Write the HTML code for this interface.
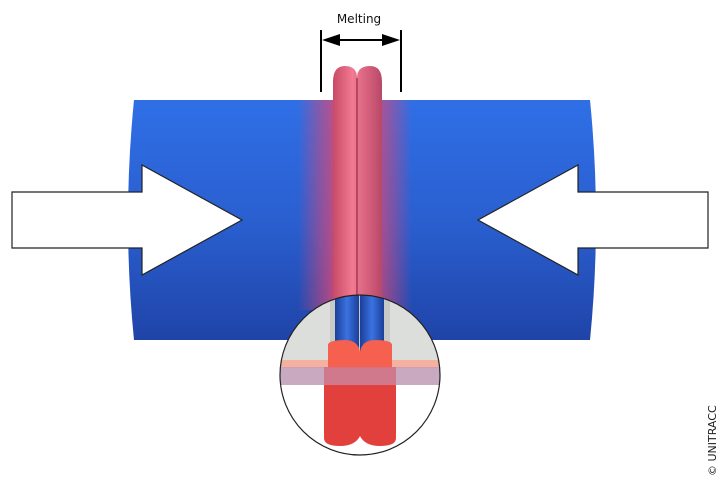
<!DOCTYPE html>
<html><head><style>body{margin:0;background:#fff}svg{display:block}</style></head><body>
<svg width="720" height="480" viewBox="0 0 720 480" xmlns="http://www.w3.org/2000/svg">
<defs>
<linearGradient id="cyl" x1="0" y1="0" x2="0" y2="1">
<stop offset="0" stop-color="#2f6fe6"/><stop offset="0.5" stop-color="#2a5fd0"/><stop offset="1" stop-color="#1f44a8"/></linearGradient>
<linearGradient id="glow" x1="0" y1="0" x2="1" y2="0">
<stop offset="0" stop-color="#e8406a" stop-opacity="0"/><stop offset="0.35" stop-color="#d84a78" stop-opacity="0.9"/><stop offset="0.65" stop-color="#d84a78" stop-opacity="0.9"/><stop offset="1" stop-color="#e8406a" stop-opacity="0"/></linearGradient>
<linearGradient id="tube" x1="0" y1="0" x2="1" y2="0">
<stop offset="0" stop-color="#c84a66"/><stop offset="0.4" stop-color="#f27a92"/><stop offset="1" stop-color="#b84868"/></linearGradient>
<linearGradient id="btube" x1="0" y1="0" x2="1" y2="0">
<stop offset="0" stop-color="#1a3f9a"/><stop offset="0.5" stop-color="#3c72e0"/><stop offset="1" stop-color="#1a3f9a"/></linearGradient>
<clipPath id="cc"><circle cx="360" cy="375" r="80"/></clipPath>
</defs>
<path d="M134 100 L590 100 Q602 220 590 340 L134 340 Q122 220 134 100 Z" fill="url(#cyl)"/>
<rect x="298" y="100" width="114" height="210" fill="url(#glow)"/>
<path d="M333 300 L333 82 Q333 66 345 66 Q357 66 357 78 Q357 66 370 66 Q382 66 382 82 L382 300 Z" fill="url(#tube)"/>
<line x1="357" y1="78" x2="357" y2="300" stroke="#a03a58" stroke-width="1.5"/>
<g fill="#000" stroke="#000">
<line x1="321" y1="30" x2="321" y2="92" stroke-width="2"/>
<line x1="401" y1="30" x2="401" y2="92" stroke-width="2"/>
<line x1="335" y1="40" x2="387" y2="40" stroke-width="2"/>
<polygon points="322,40 340,34 340,46" stroke="none"/>
<polygon points="400,40 382,34 382,46" stroke="none"/>
</g>
<text x="359" y="23" font-family="DejaVu Sans, sans-serif" font-size="12" text-anchor="middle" fill="#111">Melting</text>
<polygon points="12,192 142,192 142,165 242,220 142,275 142,248 12,248" fill="#fff" stroke="#222" stroke-width="1.2"/>
<polygon points="708,192 578,192 578,165 478,220 578,275 578,248 708,248" fill="#fff" stroke="#222" stroke-width="1.2"/>
<g clip-path="url(#cc)">
<rect x="280" y="295" width="160" height="160" fill="#fff"/>
<rect x="280" y="295" width="160" height="72" fill="#dcdedc"/>
<rect x="330" y="295" width="60" height="72" fill="#c8cac8"/>
<rect x="335" y="295" width="24" height="60" fill="url(#btube)"/>
<rect x="360" y="295" width="24" height="60" fill="url(#btube)"/>
<rect x="280" y="360" width="160" height="8" fill="#f6b0a0"/>
<path d="M328 345 Q328 340 345 340 Q358 340 360 352 Q362 340 375 340 Q392 340 392 345 L392 368 L328 368 Z" fill="#f5604f"/>
<rect x="280" y="367" width="160" height="18" fill="#c3a0b8" opacity="0.9"/>
<path d="M324 385 L324 438 Q324 446 340 446 Q355 446 360 436 Q365 446 380 446 Q396 446 396 438 L396 385 Z" fill="#e2403c"/>
<rect x="324" y="367" width="72" height="18" fill="#d75a6a" opacity="0.6"/>
</g>
<circle cx="360" cy="375" r="80" fill="none" stroke="#222" stroke-width="1.2"/>
<text transform="translate(716,476) rotate(-90)" font-family="DejaVu Sans, sans-serif" font-size="11" fill="#222">© UNITRACC</text>
</svg>
</body></html>
